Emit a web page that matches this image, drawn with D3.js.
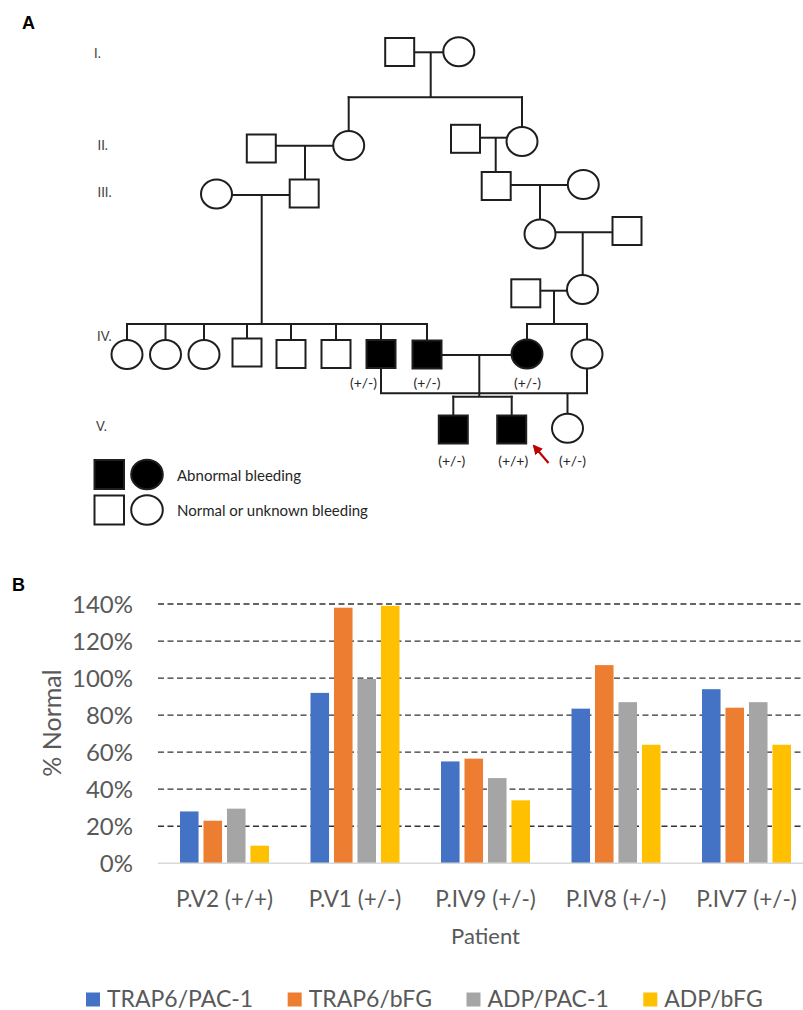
<!DOCTYPE html>
<html><head><meta charset="utf-8">
<script src="https://cdn.jsdelivr.net/npm/d3@7"></script>
<style>body{margin:0;background:#fff} svg{display:block}</style>
</head><body>
<svg id="c" width="803" height="1010"></svg>
<script>
// ---------- Panel B data ----------
const categories = ["P.V2 (+/+)", "P.V1 (+/-)", "P.IV9 (+/-)", "P.IV8 (+/-)", "P.IV7 (+/-)"];
const seriesNames = ["TRAP6/PAC-1", "TRAP6/bFG", "ADP/PAC-1", "ADP/bFG"];
const trap6Pac1 = [28, 92, 55, 83.5, 94];
const trap6Bfg  = [23, 138, 56.5, 107, 84];
const adpPac1   = [29.5, 99.5, 46, 87, 87];
const adpBfg    = [9.5, 139, 34, 64, 64];
const yTickValues = [0, 20, 40, 60, 80, 100, 120, 140];
const seriesColors = ["#4472c4", "#ed7d31", "#a5a5a5", "#ffc000"];

// ---------- Panel A pedigree ----------
const generationLabels = ["I.", "II.", "III.", "IV.", "V."];
const people = [
  {id:"I1", sex:"m", aff:false, x:399.7, y:52},
  {id:"I2", sex:"f", aff:false, x:458.8, y:51.8},
  {id:"II1", sex:"m", aff:false, x:261.3, y:148.5},
  {id:"II2", sex:"f", aff:false, x:348.7, y:145.5},
  {id:"II3", sex:"m", aff:false, x:465.5, y:138.8},
  {id:"II4", sex:"f", aff:false, x:522, y:141.5},
  {id:"III1", sex:"f", aff:false, x:216.5, y:194},
  {id:"III2", sex:"m", aff:false, x:304.2, y:193.5},
  {id:"III3", sex:"m", aff:false, x:496.2, y:186},
  {id:"III4", sex:"f", aff:false, x:583.3, y:184.5},
  {id:"III5", sex:"f", aff:false, x:540, y:234},
  {id:"III6", sex:"m", aff:false, x:627, y:231},
  {id:"III7", sex:"m", aff:false, x:525.8, y:293.3},
  {id:"III8", sex:"f", aff:false, x:582.5, y:289.5},
  {id:"IV1", sex:"f", aff:false, x:127, y:354.5},
  {id:"IV2", sex:"f", aff:false, x:165.5, y:354.5},
  {id:"IV3", sex:"f", aff:false, x:204, y:354.5},
  {id:"IV4", sex:"m", aff:false, x:247, y:352.5},
  {id:"IV5", sex:"m", aff:false, x:291, y:354},
  {id:"IV6", sex:"m", aff:false, x:336, y:354},
  {id:"IV7", sex:"m", aff:true, x:381, y:354},
  {id:"IV8", sex:"m", aff:true, x:427, y:354.5},
  {id:"IV9", sex:"f", aff:true, x:527, y:354},
  {id:"IV10", sex:"f", aff:false, x:587, y:354},
  {id:"V1", sex:"m", aff:true, x:453.3, y:429.5},
  {id:"V2", sex:"m", aff:true, x:511.7, y:429.5},
  {id:"V3", sex:"f", aff:false, x:567.5, y:428.3}
];
const unions = [
  {a:"I1", b:"I2", y:52.3, dropX:430.7, sibY:97.3, kids:["II2","II4"]},
  {a:"II1", b:"II2", y:145.7, dropX:305, kids:["III2"]},
  {a:"II3", b:"II4", y:137.7, dropX:495.7, kids:["III3"]},
  {a:"III1", b:"III2", y:195, dropX:261.7, sibY:324, kids:["IV1","IV2","IV3","IV4","IV5","IV6","IV7","IV8"]},
  {a:"III3", b:"III4", y:185, dropX:540, kids:["III5"]},
  {a:"III5", b:"III6", y:232.3, dropX:582.7, kids:["III8"]},
  {a:"III7", b:"III8", y:290.7, dropX:554, sibY:324, kids:["IV9","IV10"]},
  {a:"IV8", b:"IV9", y:355, dropX:479.3, sibY:396.7, kids:["V1","V2"]},
  {a:"IV7", b:"IV10", below:true, y:393.3, kids:["V3"]}
];
const genotypes = [
  {id:"IV7", text:"(+/-)", dx:-17.5, dy:28.7},
  {id:"IV8", text:"(+/-)", dx:0, dy:28.2},
  {id:"IV9", text:"(+/-)", dx:0.5, dy:28.7},
  {id:"V1", text:"(+/-)", dx:-1.5, dy:30.5},
  {id:"V2", text:"(+/+)", dx:1.5, dy:30.5},
  {id:"V3", text:"(+/-)", dx:5, dy:31.7}
];
const pedigreeLegend = [
  {aff:true, text:"Abnormal bleeding"},
  {aff:false, text:"Normal or unknown bleeding"}
];

const svg = d3.select("#c");
const FONT = "Lato, 'Open Sans', sans-serif";
const INK = "#1e1e1e";

// panel letters
svg.append("text").attr("x", 22).attr("y", 29).text("A")
  .attr("font-family", "'Liberation Sans', Arial, sans-serif").attr("font-weight", "bold").attr("font-size", 18).attr("fill", "#000");
svg.append("text").attr("x", 12).attr("y", 591).text("B")
  .attr("font-family", "'Liberation Sans', Arial, sans-serif").attr("font-weight", "bold").attr("font-size", 18).attr("fill", "#000");

// ---------- Pedigree ----------
const W = 29, H = 28, RX = 15.5, RY = 14.5;
const byId = new Map(people.map(p => [p.id, p]));
const halfW = p => p.sex === "m" ? W/2 : RX;
const halfH = p => p.sex === "m" ? H/2 : RY;
const ped = svg.append("g");
const lines = ped.append("g").attr("stroke", INK).attr("stroke-width", 2).attr("fill", "none");
const seg = (x1, y1, x2, y2) => lines.append("line").attr("x1", x1).attr("y1", y1).attr("x2", x2).attr("y2", y2);

unions.forEach(u => {
  const a = byId.get(u.a), b = byId.get(u.b);
  const kids = u.kids.map(k => byId.get(k));
  if (u.below) {
    const path = d3.path();
    path.moveTo(a.x, a.y + halfH(a));
    path.lineTo(a.x, u.y);
    path.lineTo(b.x, u.y);
    path.lineTo(b.x, b.y + halfH(b));
    lines.append("path").attr("d", path.toString());
    kids.forEach(k => seg(k.x, u.y, k.x, k.y - halfH(k)));
    return;
  }
  const [l, r] = a.x < b.x ? [a, b] : [b, a];
  seg(l.x + halfW(l), u.y, r.x - halfW(r), u.y);
  if (u.sibY === undefined) {
    seg(u.dropX, u.y, u.dropX, kids[0].y - halfH(kids[0]));
  } else {
    seg(u.dropX, u.y, u.dropX, u.sibY);
    const xs = kids.map(k => k.x).concat([u.dropX]);
    seg(d3.min(xs) - 1, u.sibY, d3.max(xs) + 1, u.sibY);
    kids.forEach(k => seg(k.x, u.sibY - 1, k.x, k.y - halfH(k)));
  }
});

const shapes = ped.append("g").attr("stroke", INK).attr("stroke-width", 2);
people.forEach(p => {
  if (p.sex === "m") {
    shapes.append("rect").attr("x", p.x - W/2).attr("y", p.y - H/2).attr("width", W).attr("height", H)
      .attr("fill", p.aff ? "#000" : "#fff");
  } else {
    shapes.append("ellipse").attr("cx", p.x).attr("cy", p.y).attr("rx", RX).attr("ry", RY)
      .attr("fill", p.aff ? "#000" : "#fff");
  }
});

ped.append("g").selectAll("text").data(genotypes).join("text")
  .attr("x", d => byId.get(d.id).x + d.dx).attr("y", d => byId.get(d.id).y + d.dy)
  .attr("text-anchor", "middle").attr("dominant-baseline", "central")
  .attr("font-family", FONT).attr("font-size", 14).attr("fill", "#262626").text(d => d.text);

// generation labels
const genY = d3.scaleOrdinal().domain(generationLabels).range([53, 145, 192, 336, 426]);
const genX = d3.scaleOrdinal().domain(generationLabels).range([94, 97.5, 97.5, 97, 96]);
ped.append("g").selectAll("text").data(generationLabels).join("text")
  .attr("x", d => genX(d)).attr("y", d => genY(d)).attr("dominant-baseline", "central")
  .attr("font-family", FONT).attr("font-size", 13).attr("fill", "#404040").text(d => d);

// red arrow
const defs = svg.append("defs");
defs.append("marker").attr("id", "ah").attr("viewBox", "0 0 10 10").attr("refX", 8).attr("refY", 5)
  .attr("markerWidth", 4.5).attr("markerHeight", 4.5).attr("orient", "auto")
  .append("path").attr("d", "M0,0 L10,5 L0,10 z").attr("fill", "#c00000");
ped.append("line").attr("x1", 548.5).attr("y1", 463).attr("x2", 534).attr("y2", 446)
  .attr("stroke", "#c00000").attr("stroke-width", 2.2).attr("marker-end", "url(#ah)");

// pedigree legend
const pl = ped.append("g").selectAll("g").data(pedigreeLegend).join("g")
  .attr("transform", (d, i) => `translate(0,${474.5 + i * 35.5})`);
pl.append("rect").attr("x", 95 - 0.5).attr("y", -14.5).attr("width", 29.5).attr("height", 29)
  .attr("fill", d => d.aff ? "#000" : "#fff").attr("stroke", INK).attr("stroke-width", 2);
pl.append("ellipse").attr("cx", 147).attr("cy", 0).attr("rx", 15.8).attr("ry", 14.8)
  .attr("fill", d => d.aff ? "#000" : "#fff").attr("stroke", INK).attr("stroke-width", 2);
pl.append("text").attr("x", 177).attr("y", 0).attr("dominant-baseline", "central")
  .attr("font-family", FONT).attr("font-size", 15).attr("fill", "#262626").text(d => d.text);

// ---------- Bar chart ----------
const seriesValues = [trap6Pac1, trap6Bfg, adpPac1, adpBfg];
const x0 = d3.scaleBand().domain(categories).range([159.25, 811.75]).paddingInner(0.318).paddingOuter(0.159);
const x1 = d3.scaleBand().domain(seriesNames).range([0, x0.bandwidth()]).paddingInner(0.21);
const y = d3.scaleLinear().domain([0, 140]).range([863.3, 604]);
const color = d3.scaleOrdinal().domain(seriesNames).range(seriesColors);
const GRAY = "#595959";

const chart = svg.append("g");
// gridlines
chart.append("g").selectAll("line").data(yTickValues.filter(v => v > 0)).join("line")
  .attr("x1", 158).attr("x2", 812).attr("y1", d => y(d)).attr("y2", d => y(d))
  .attr("stroke", "#333").attr("stroke-width", 1.3).attr("stroke-dasharray", "6,3.5");
// bars
const rows = categories.map((c, i) => ({cat: c, vals: seriesNames.map((s, j) => ({s, v: seriesValues[j][i]}))}));
chart.append("g").selectAll("g").data(rows).join("g")
  .attr("transform", d => `translate(${x0(d.cat)},0)`)
  .selectAll("rect").data(d => d.vals).join("rect")
  .attr("x", d => x1(d.s)).attr("width", x1.bandwidth())
  .attr("y", d => y(d.v)).attr("height", d => y(0) - y(d.v))
  .attr("fill", d => color(d.s));
// baseline
chart.append("line").attr("x1", 158).attr("x2", 812).attr("y1", y(0)).attr("y2", y(0))
  .attr("stroke", "#d9d9d9").attr("stroke-width", 1.5);

// y axis labels
const yAxis = d3.axisLeft(y).tickValues(yTickValues).tickFormat(d => d + "%").tickSize(0).tickPadding(0);
const yg = chart.append("g").attr("transform", "translate(133,0)").call(yAxis);
yg.select(".domain").remove();
yg.selectAll("text").attr("font-family", FONT).attr("font-size", 24).attr("fill", GRAY).attr("dy", "0.36em");

// x axis labels
const xAxis = d3.axisBottom(x0).tickSize(0).tickPadding(0);
const xg = chart.append("g").attr("transform", "translate(0,890)").call(xAxis);
xg.select(".domain").remove();
xg.selectAll("text").attr("font-family", FONT).attr("font-size", 22.5).attr("fill", GRAY).attr("dy", "0.75em");

// axis titles
chart.append("text").attr("x", 485.5).attr("y", 944).attr("text-anchor", "middle")
  .attr("font-family", FONT).attr("font-size", 22).attr("fill", GRAY).text("Patient");
chart.append("text").attr("transform", "translate(51,723) rotate(-90)").attr("text-anchor", "middle")
  .attr("dominant-baseline", "central").attr("font-family", FONT).attr("font-size", 25).attr("fill", GRAY).text("% Normal");

// legend
const lg = chart.append("g");
let lx = 86;
seriesNames.forEach(s => {
  lg.append("rect").attr("x", lx).attr("y", 992.5).attr("width", 14).attr("height", 14).attr("fill", color(s));
  const t = lg.append("text").attr("x", lx + 21).attr("y", 1006.5)
    .attr("font-family", FONT).attr("font-size", 23).attr("fill", GRAY).text(s);
  lx += 21 + t.node().getComputedTextLength() + 34.5;
});
</script>
</body></html>
